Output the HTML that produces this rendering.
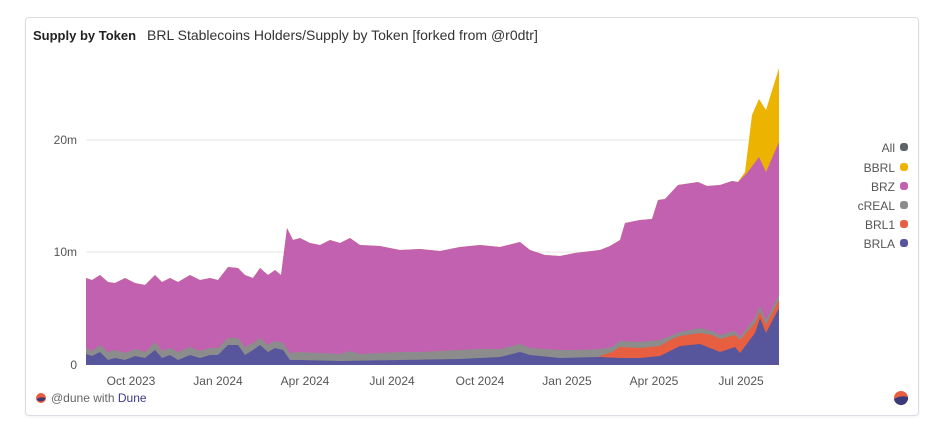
<!DOCTYPE html>
<html><head><meta charset="utf-8"><style>
body{margin:0;background:#fff;font-family:"Liberation Sans",sans-serif;}
.card{position:absolute;left:25px;top:17px;width:892px;height:397px;border:1px solid #dcdce6;border-radius:4px;box-shadow:0 1px 2px rgba(0,0,0,.06);}
</style></head><body>
<div class="card"></div>
<svg width="941" height="442" style="position:absolute;left:0;top:0" xmlns="http://www.w3.org/2000/svg" font-family="Liberation Sans, sans-serif">
<text x="33" y="40" font-size="13" font-weight="bold" fill="#222">Supply by Token</text>
<text x="147" y="40" font-size="14" fill="#333">BRL Stablecoins Holders/Supply by Token [forked from @r0dtr]</text>
<line x1="86" x2="779" y1="140" y2="140" stroke="#e6e6e6"/>
<line x1="86" x2="779" y1="252" y2="252" stroke="#e6e6e6"/>
<g font-size="12" fill="#555" text-anchor="end">
<text x="77" y="144">20m</text><text x="77" y="256">10m</text><text x="77" y="369">0</text>
</g>
<g id="layers"></g>
<g font-size="12" fill="#555" text-anchor="middle">
<text x="131" y="385">Oct 2023</text><text x="218" y="385">Jan 2024</text><text x="305" y="385">Apr 2024</text><text x="392" y="385">Jul 2024</text><text x="480" y="385">Oct 2024</text><text x="567" y="385">Jan 2025</text><text x="654" y="385">Apr 2025</text><text x="741" y="385">Jul 2025</text>
</g>
<g font-size="12" fill="#555" text-anchor="end">
<text x="895" y="152">All</text><text x="895" y="172">BBRL</text><text x="895" y="191">BRZ</text><text x="895" y="210">cREAL</text><text x="895" y="229">BRL1</text><text x="895" y="248">BRLA</text>
</g>
<rect x="900" y="143" width="8" height="8" rx="3" fill="#5f6368"/>
<rect x="900" y="163" width="8" height="8" rx="3" fill="#ecb400"/>
<rect x="900" y="182" width="8" height="8" rx="3" fill="#c261af"/>
<rect x="900" y="201" width="8" height="8" rx="3" fill="#8c8c8c"/>
<rect x="900" y="220" width="8" height="8" rx="3" fill="#e85e40"/>
<rect x="900" y="239" width="8" height="8" rx="3" fill="#57559b"/>
<circle cx="41" cy="398" r="5" fill="#e85e40"/><path d="M36.5 399 Q41 396 45.5 398 A5 5 0 0 1 36.5 399Z" fill="#3a3a7a"/>
<text x="51" y="402" font-size="12" fill="#666">@dune with <tspan fill="#3d3a8c">Dune</tspan></text>
<circle cx="901" cy="398" r="7" fill="#e85e40"/><path d="M894 399 Q901 395 908 397 A7 7 0 0 1 894 399Z" fill="#3a3a7a"/>
</svg>
<script>
const BBRL=[[738,182],[745,172],[752,115],[759,99],[766,110],[779,68]];
const BRZ=[[86,278],[92,280],[100,275],[108,282],[115,283],[125,278],[135,283],[145,285],[155,275],[162,282],[170,278],[178,282],[190,275],[200,280],[210,278],[218,280],[228,267],[238,268],[245,275],[253,278],[260,268],[268,275],[275,270],[281,275],[287,228],[293,240],[300,238],[310,243],[320,245],[330,240],[340,243],[350,238],[360,245],[380,246],[400,250],[420,249],[440,251],[460,247],[480,245],[500,247],[520,242],[530,250],[545,255],[560,256],[575,253],[600,250],[610,246],[620,240],[625,223],[640,220],[652,219],[658,200],[665,199],[678,185],[698,182],[707,186],[720,185],[732,181],[738,182],[747,173],[759,157],[766,172],[779,142]];
const CRE=[[86,348],[92,351],[100,345],[108,352],[115,350],[125,353],[135,349],[145,352],[155,342],[162,351],[170,348],[178,352],[190,347],[200,351],[210,348],[218,348],[228,338],[238,338],[245,347],[253,343],[260,338],[268,345],[275,341],[283,343],[290,353],[300,352],[340,354],[350,351],[360,354],[400,352],[420,352],[440,351],[460,350],[480,349],[500,349],[520,344],[530,348],[560,350],[580,350],[600,349],[612,347],[620,341],[640,342],[660,340],[670,336],[680,332],[700,328],[712,331],[720,335],[735,331],[740,337],[755,318],[760,306],[766,320],[779,295]];
const BRL1=[[600,356],[612,352],[620,347],[640,348],[660,346],[670,340],[680,336],[700,333],[712,335],[720,339],[735,335],[740,340],[755,323],[760,312],[766,325],[779,300]];
const BRLA=[[86,354],[92,356],[100,352],[108,360],[115,358],[125,360],[135,356],[145,358],[155,350],[162,358],[170,355],[178,360],[190,355],[200,358],[210,355],[218,355],[228,345],[238,345],[245,355],[253,350],[260,345],[268,352],[275,348],[283,350],[290,360],[300,360],[340,361],[400,360],[460,359],[500,357],[520,352],[530,355],[560,358],[600,357],[620,358],[640,358],[660,356],[670,351],[680,346],[700,344],[720,352],[735,347],[740,353],[755,333],[760,318],[766,333],[779,308]];
function area(pts,fill,start){let p=pts.slice();if(start){p=BRZ.filter(q=>q[0]<pts[0][0]).concat(p);}
const d='M'+p[0][0]+',365 '+p.map(q=>'L'+q[0]+','+q[1]).join(' ')+' L'+p[p.length-1][0]+',365Z';
return '<path d="'+d+'" fill="'+fill+'"/>';}
let h='';
h+=area(BBRL,'#ecb400',true);
h+=area(BRZ,'#c261af');
h+=area(CRE,'#8c8c8c');
h+=area([[86,365],[599,365]].concat(BRL1),'#e85e40');
h+=area(BRLA,'#57559b');
document.getElementById('layers').innerHTML=h;
</script>
</body></html>
